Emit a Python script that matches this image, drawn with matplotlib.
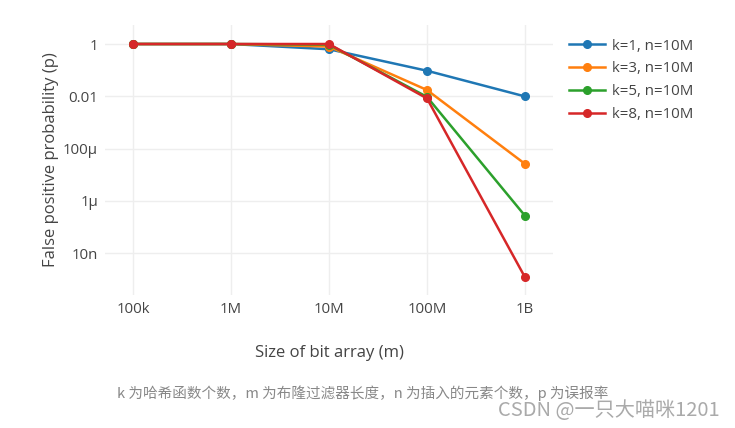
import matplotlib
matplotlib.use("Agg")
import matplotlib.pyplot as plt

plt.rcParams['font.family'] = ['Open Sans', 'DejaVu Sans']

# bit array sizes (m) and false positive probabilities
sizes = [1e5, 1e6, 1e7, 1e8, 1e9]
size_labels = ['100k', '1M', '10M', '100M', '1B']
p_k1 = [1.0, 1.0, 0.63, 0.095, 0.0099]
p_k3 = [1.0, 1.0, 0.80, 0.0174, 2.6e-5]
p_k5 = [1.0, 1.0, 0.95, 0.0095, 2.7e-7]
p_k8 = [1.0, 1.0, 1.0, 0.0083, 1.2e-9]
series_labels = ['k=1, n=10M', 'k=3, n=10M', 'k=5, n=10M', 'k=8, n=10M']
colors = ['#1f77b4', '#ff7f0e', '#2ca02c', '#d62728']
y_ticks = [1, 1e-2, 1e-4, 1e-6, 1e-8]
y_tick_labels = ['1', '0.01', '100µ', '1µ', '10n']

W, H = 735, 428
fig = plt.figure(figsize=(W / 100, H / 100), dpi=100)
ax = fig.add_axes([105 / W, 1 - 295 / H, (553 - 105) / W, (295 - 25) / H])

for vals, lab, c in zip([p_k1, p_k3, p_k5, p_k8], series_labels, colors):
    ax.plot(sizes, vals, color=c, linewidth=1.8, marker='o', markersize=5.5, label=lab)

ax.set_xscale('log')
ax.set_yscale('log')
ax.set_xlim(10 ** 4.714, 10 ** 9.286)
ax.set_ylim(10 ** -9.6, 10 ** 0.727)
ax.set_xticks(sizes)
ax.set_xticklabels(size_labels)
ax.set_yticks(y_ticks)
ax.set_yticklabels(y_tick_labels)
ax.minorticks_off()
ax.tick_params(length=0, labelsize=10.8, colors='#444444')
ax.tick_params(axis='x', pad=5)
ax.tick_params(axis='y', pad=5)
ax.grid(True, color='#eeeeee', linewidth=1)
ax.set_axisbelow(True)
for s in ax.spines.values():
    s.set_visible(False)

ax.set_xlabel('Size of bit array (m)', fontsize=12, color='#444444', labelpad=20)
ax.set_ylabel('False positive probability (p)', fontsize=12, color='#444444', labelpad=3)

fig.legend(loc='upper left', bbox_to_anchor=(561 / W, 1 - 31 / H), frameon=False,
           fontsize=10.8, handlelength=2.4, handletextpad=0.5, labelspacing=0.52,
           borderpad=0, labelcolor='#444444')

fig.text(117 / W, 1 - 393 / H, 'k 为哈希函数个数，m 为布隆过滤器长度，n 为插入的元素个数，p 为误报率',
         family=['Noto Sans CJK SC', 'DejaVu Sans'], fontsize=10.5, color='#888888',
         va='center', ha='left')
fig.text(720 / W, 1 - 410 / H, 'CSDN @一只大喵咪1201',
         family=['Noto Sans CJK SC', 'DejaVu Sans'], fontsize=14.5, color='#aaaaaa',
         weight='light', va='center', ha='right')

fig.savefig('out.png', dpi=100)
